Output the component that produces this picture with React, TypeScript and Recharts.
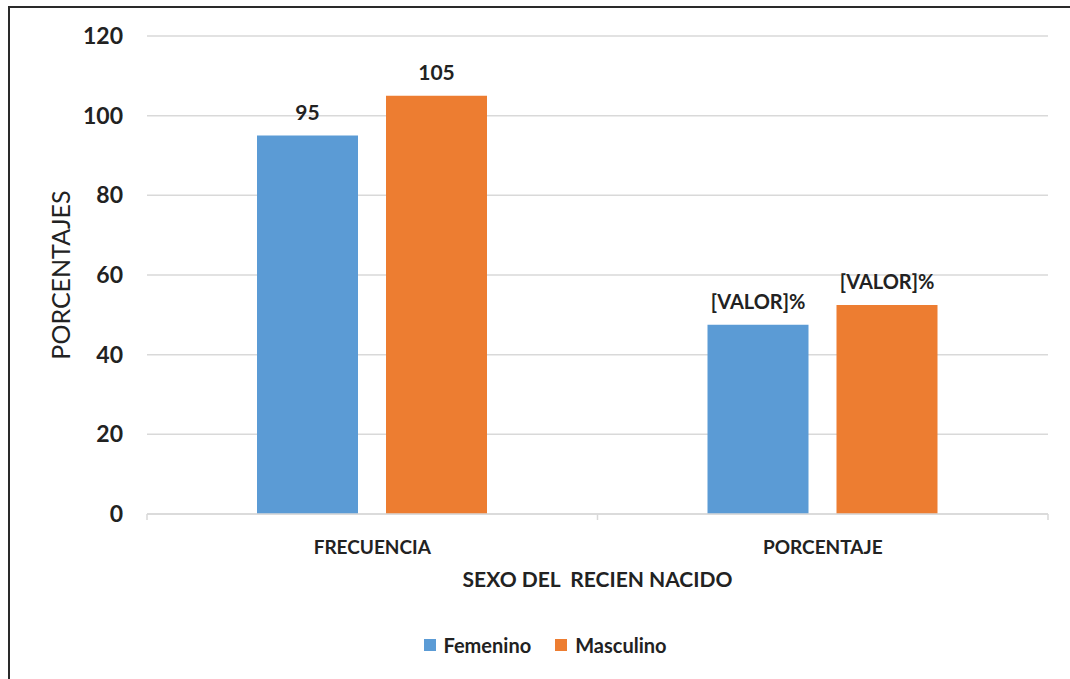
import React from 'react';
import { BarChart, Bar, XAxis, YAxis, CartesianGrid, LabelList, Label } from 'recharts';

const categories = ['FRECUENCIA', 'PORCENTAJE'];
const femenino = [95, 47.5];
const masculino = [105, 52.5];
const yTicks = [0, 20, 40, 60, 80, 100, 120];
const seriesNames = ['Femenino', 'Masculino'];
const colors = ['#5B9BD5', '#ED7D31'];

const data = categories.map((c, i) => ({ cat: c, Femenino: femenino[i], Masculino: masculino[i] }));

const FONT = 'Lato, "Open Sans", sans-serif';

const makeLabel = (key: string) => (props: any) => {
  const { x, y, width, index } = props;
  const isPct = categories[index] === 'PORCENTAJE';
  const text = isPct ? '[VALOR]%' : String(data[index][key as 'Femenino']);
  return (
    <text x={x + width / 2} y={y - 16} textAnchor="middle" fontFamily={FONT} fontWeight={700} fontSize={isPct ? 20 : 21} fill="#222">
      {text}
    </text>
  );
};

const XAxisExtras = (props: any) => {
  const vb = props.viewBox || { x: 147, y: 514, width: 901 };
  const n = categories.length;
  const xs = Array.from({ length: n + 1 }, (_, i) => vb.x + (vb.width * i) / n);
  return (
    <g>
      {xs.map((x, i) => (
        <line key={i} x1={x} x2={x} y1={vb.y} y2={vb.y + 6} stroke="#d9d9d9" strokeWidth={1.5} />
      ))}
      <text x={vb.x + vb.width / 2} y={587} textAnchor="middle" fontFamily={FONT} fontWeight={700} fontSize={21} fill="#222" style={{ whiteSpace: 'pre' }}>
        {'SEXO DEL  RECIEN NACIDO'}
      </text>
    </g>
  );
};

export default function App() {
  return (
    <div style={{ position: 'absolute', left: 0, top: 0, width: 1070, height: 679, background: '#fff', overflow: 'hidden' }}>
      <div style={{ position: 'absolute', left: 8, top: 6, width: 1100, height: 720, border: '2px solid #2a2a2a', boxSizing: 'border-box' }} />
      <div style={{ position: 'absolute', left: 0, top: 0 }}>
        <BarChart
          width={1070}
          height={679}
          data={data}
          margin={{ top: 36, right: 22, bottom: 105, left: 87 }}
          barGap={28}
          barSize={101}
        >
          <CartesianGrid horizontal vertical={false} stroke="#d9d9d9" strokeWidth={1.5} />
          <XAxis
            dataKey="cat"
            stroke="#d9d9d9"
            strokeWidth={1.5}
            tickLine={false}
            tick={{ fill: '#222', fontFamily: FONT, fontWeight: 700, fontSize: 19 }}
            tickMargin={21}
            height={60}
          >
            <Label content={<XAxisExtras />} />
          </XAxis>
          <YAxis
            domain={[0, 120]}
            ticks={yTicks}
            axisLine={false}
            tickLine={false}
            tickSize={0}
            tickMargin={24}
            width={60}
            tick={{ fill: '#222', fontFamily: FONT, fontWeight: 700, fontSize: 23 }}
          >
            <Label
              content={() => (
                <text x={70} y={275} textAnchor="middle" transform="rotate(-90 70 275)" fontFamily={FONT} fontSize={25} fill="#222">
                  PORCENTAJES
                </text>
              )}
            />
          </YAxis>
          <Bar dataKey="Femenino" fill={colors[0]} isAnimationActive={false}>
            <LabelList dataKey="Femenino" content={makeLabel('Femenino')} />
          </Bar>
          <Bar dataKey="Masculino" fill={colors[1]} isAnimationActive={false}>
            <LabelList dataKey="Masculino" content={makeLabel('Masculino')} />
          </Bar>
        </BarChart>
      </div>
      <div style={{ position: 'absolute', top: 632, left: 10, width: 1070, display: 'flex', justifyContent: 'center', alignItems: 'center', fontFamily: FONT, fontWeight: 700, fontSize: 20, color: '#222', lineHeight: '26px' }}>
        {seriesNames.map((n, i) => (
          <div key={n} style={{ display: 'flex', alignItems: 'center', marginRight: i === 0 ? 24 : 0 }}>
            <span style={{ display: 'inline-block', width: 12, height: 12, background: colors[i], marginRight: 8 }} />
            <span>{n}</span>
          </div>
        ))}
      </div>
    </div>
  );
}
